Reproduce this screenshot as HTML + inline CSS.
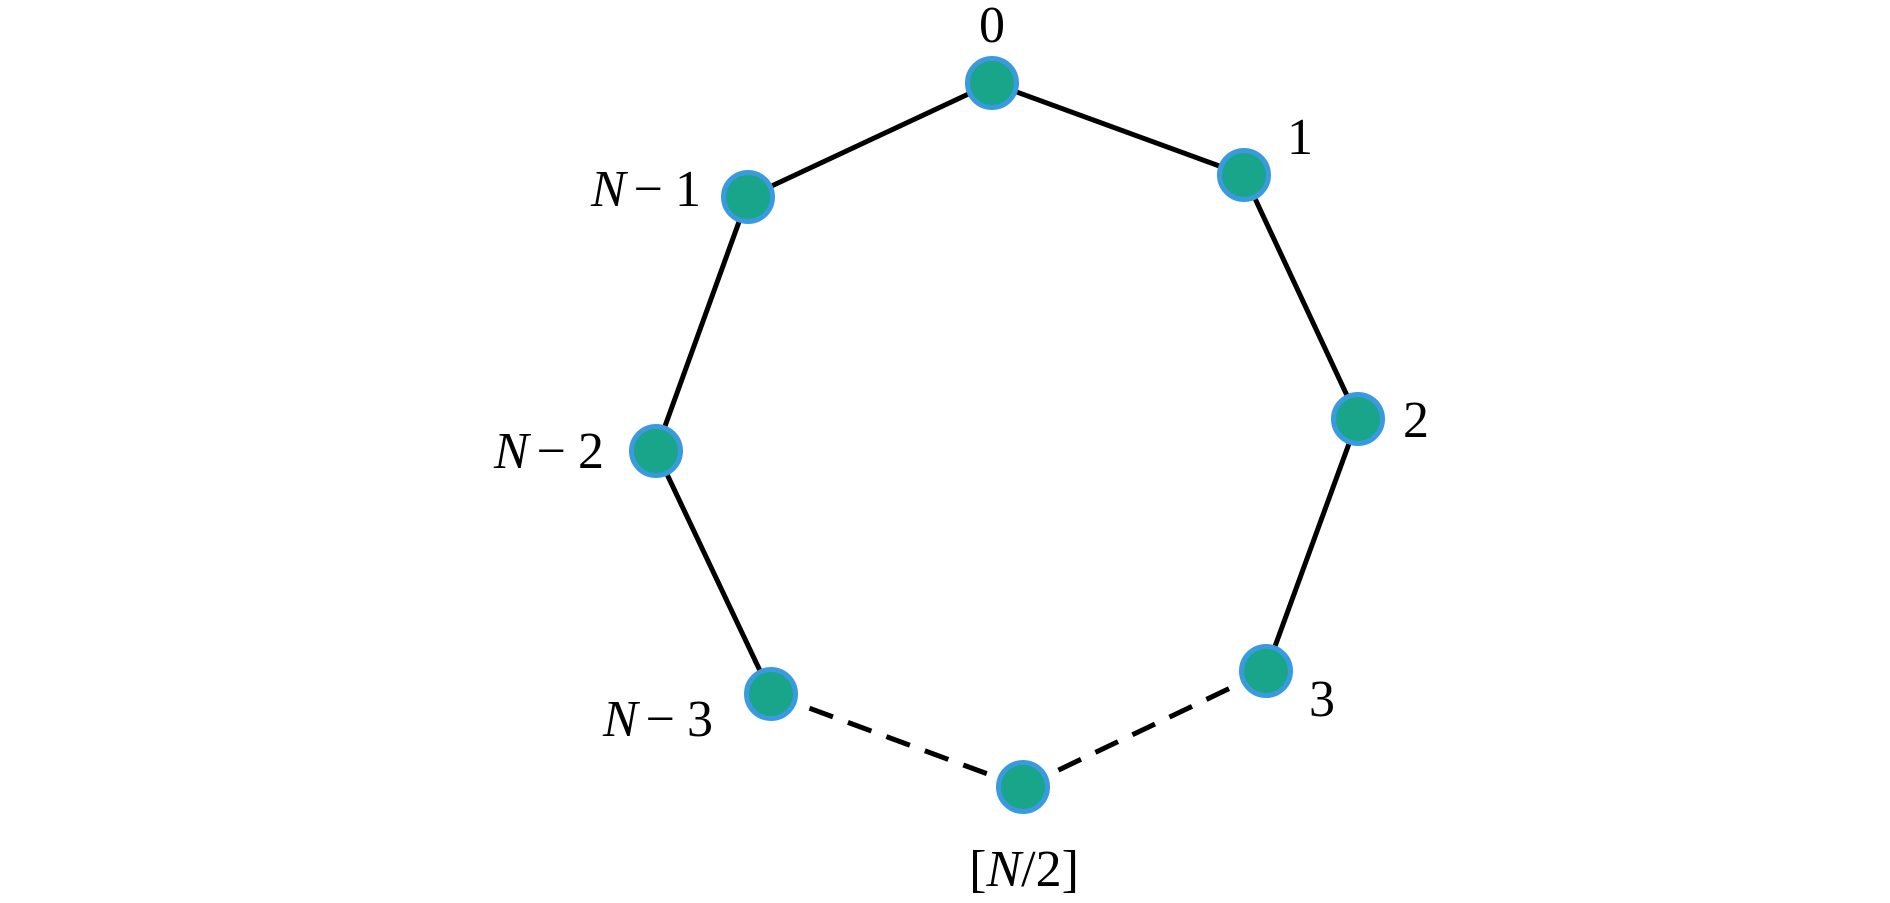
<!DOCTYPE html>
<html><head><meta charset="utf-8"><style>html,body{margin:0;padding:0;background:#fff;}</style></head>
<body>
<svg width="1890" height="898" viewBox="0 0 1890 898" xmlns="http://www.w3.org/2000/svg">
<g stroke="#000" stroke-width="5" fill="none">
<line x1="992" y1="83" x2="1244" y2="175"/>
<line x1="1244" y1="175" x2="1358" y2="419"/>
<line x1="1358" y1="419" x2="1266" y2="671"/>
<line x1="992" y1="83" x2="748" y2="197"/>
<line x1="748" y1="197" x2="656" y2="451"/>
<line x1="656" y1="451" x2="771" y2="694"/>
<line x1="1266" y1="671" x2="1023" y2="787" stroke-dasharray="25 16"/>
<line x1="771" y1="694" x2="1023" y2="787" stroke-dasharray="25 16"/>
</g>
<g fill="#18a589" stroke="#3a9ae0" stroke-width="5">
<circle cx="992" cy="83" r="24.5"/>
<circle cx="1244" cy="175" r="24.5"/>
<circle cx="1358" cy="419" r="24.5"/>
<circle cx="1266" cy="671" r="24.5"/>
<circle cx="1023" cy="787" r="24.5"/>
<circle cx="771" cy="694" r="24.5"/>
<circle cx="656" cy="451" r="24.5"/>
<circle cx="748" cy="197" r="24.5"/>
</g>
<g font-family="Liberation Serif, serif" font-size="52" fill="#000">
<text x="992" y="42" text-anchor="middle">0</text>
<text x="1300" y="154" text-anchor="middle">1</text>
<text x="1416" y="437" text-anchor="middle">2</text>
<text x="1322" y="716" text-anchor="middle">3</text>
<text x="1024" y="886" text-anchor="middle">[<tspan font-style="italic">N</tspan>/2]</text>
<text x="713" y="736" text-anchor="end"><tspan font-style="italic">N</tspan><tspan dx="8">−</tspan><tspan dx="12">3</tspan></text>
<text x="604" y="468" text-anchor="end"><tspan font-style="italic">N</tspan><tspan dx="8">−</tspan><tspan dx="12">2</tspan></text>
<text x="701" y="206" text-anchor="end"><tspan font-style="italic">N</tspan><tspan dx="8">−</tspan><tspan dx="12">1</tspan></text>
</g>
</svg>
</body></html>
